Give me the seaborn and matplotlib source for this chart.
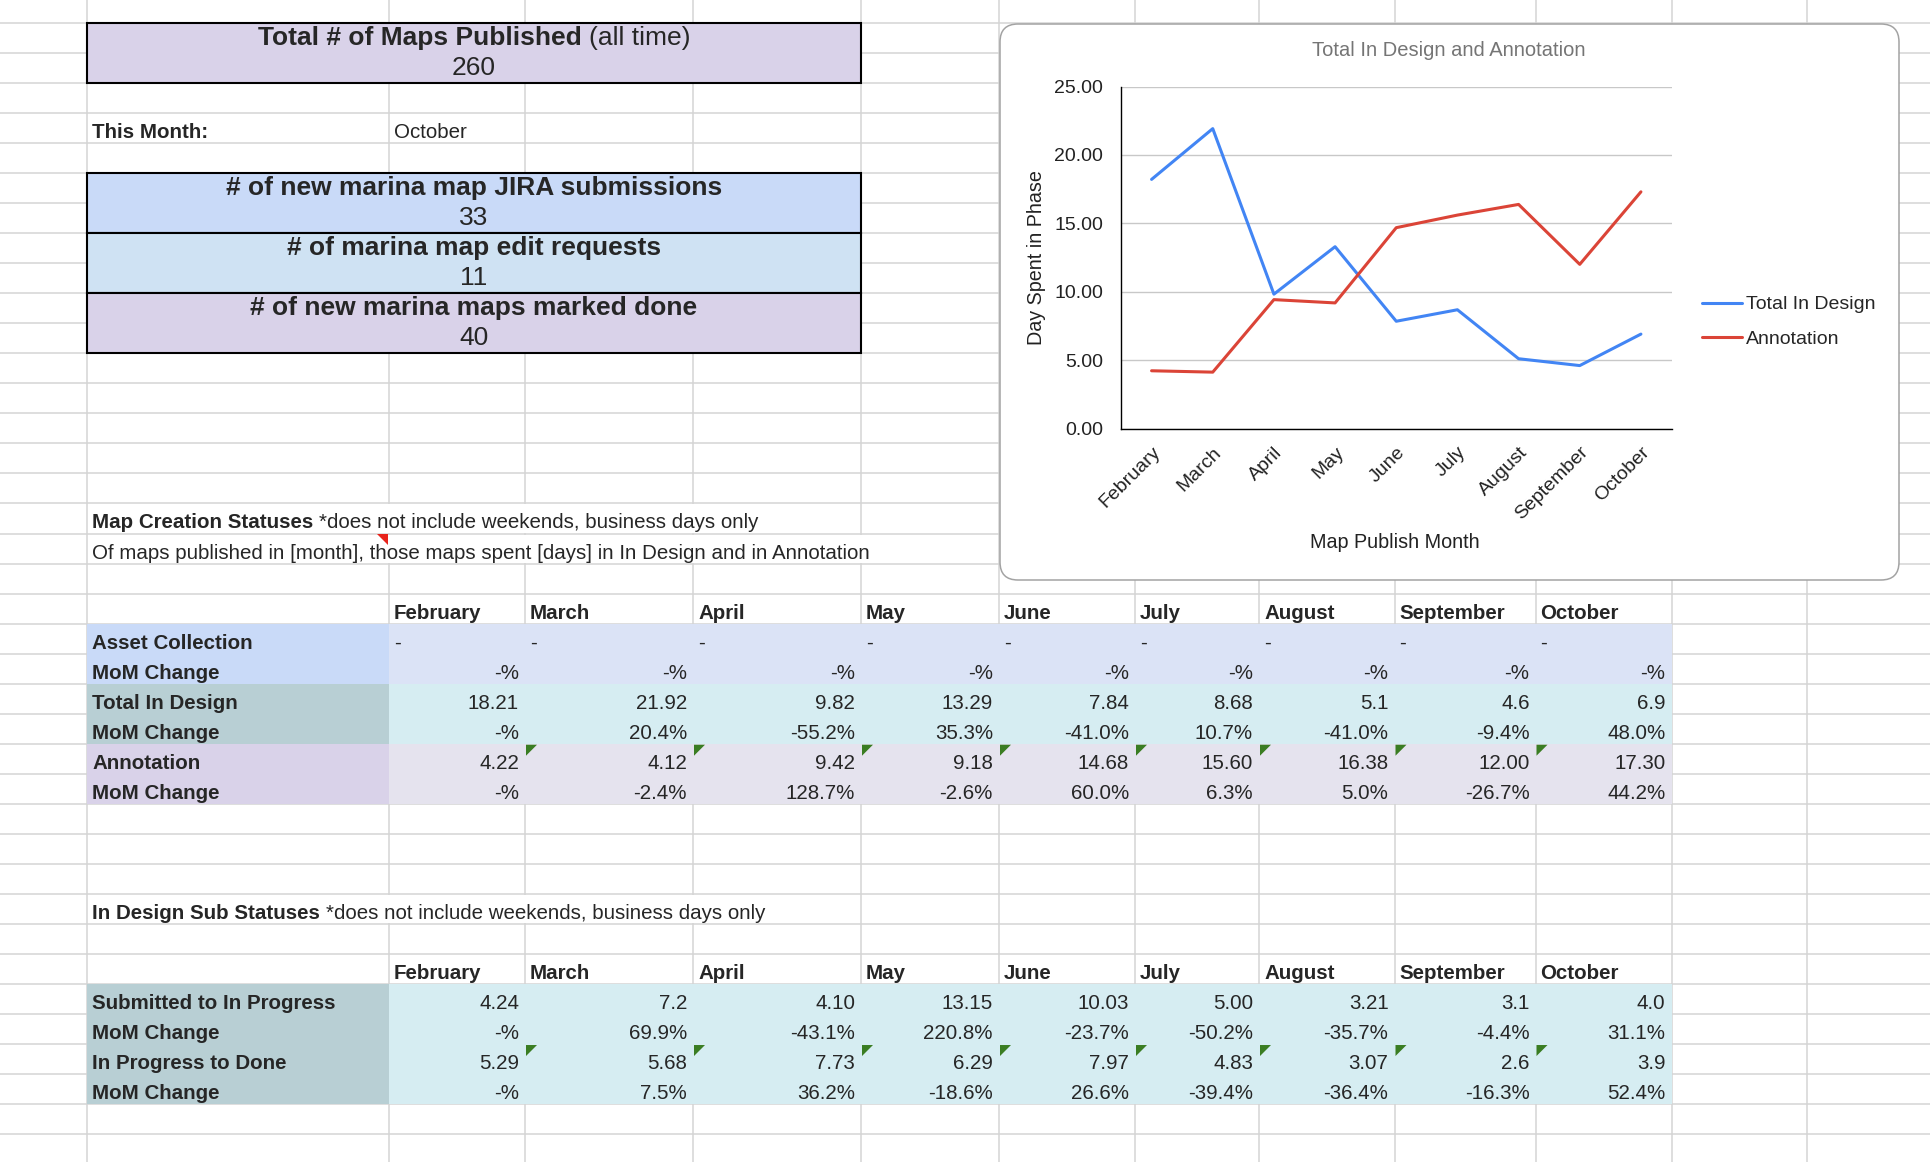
import numpy as np
import pandas as pd
import matplotlib
matplotlib.use("Agg")
import matplotlib.pyplot as plt
from matplotlib.patches import Rectangle, Polygon, FancyBboxPatch
from matplotlib.ticker import FormatStrFormatter, MultipleLocator
import seaborn as sns

# ---- data -------------------------------------------------------------
months = ["February", "March", "April", "May", "June", "July", "August", "September", "October"]
total_in_design = [18.21, 21.92, 9.82, 13.29, 7.84, 8.68, 5.1, 4.6, 6.9]
annotation = [4.22, 4.12, 9.42, 9.18, 14.68, 15.60, 16.38, 12.00, 17.30]

# cell texts as they are shown in the sheet
asset_txt = ["-"] * 9
asset_mom = ["-%"] * 9
design_txt = ["18.21", "21.92", "9.82", "13.29", "7.84", "8.68", "5.1", "4.6", "6.9"]
design_mom = ["-%", "20.4%", "-55.2%", "35.3%", "-41.0%", "10.7%", "-41.0%", "-9.4%", "48.0%"]
annot_txt = ["4.22", "4.12", "9.42", "9.18", "14.68", "15.60", "16.38", "12.00", "17.30"]
annot_mom = ["-%", "-2.4%", "128.7%", "-2.6%", "60.0%", "6.3%", "5.0%", "-26.7%", "44.2%"]
sub_txt = ["4.24", "7.2", "4.10", "13.15", "10.03", "5.00", "3.21", "3.1", "4.0"]
sub_mom = ["-%", "69.9%", "-43.1%", "220.8%", "-23.7%", "-50.2%", "-35.7%", "-4.4%", "31.1%"]
done_txt = ["5.29", "5.68", "7.73", "6.29", "7.97", "4.83", "3.07", "2.6", "3.9"]
done_mom = ["-%", "7.5%", "36.2%", "-18.6%", "26.6%", "-39.4%", "-36.4%", "-16.3%", "52.4%"]

total_maps = 260
jira_submissions = 33
edit_requests = 11
maps_done = 40
this_month = "October"

# ---- sheet geometry (pixels) ------------------------------------------
W, H = 1930, 1162
col_x = [0, 87, 389, 525, 693, 861, 999, 1135, 1259, 1394.5, 1535.5, 1671.5, 1807, 1930]
ROW0, RH = 23, 30.03
def ry(k):
    return ROW0 + RH * k

FS = 14.8      # normal sheet font
FS_BIG = 19.0  # boxed headline font
GRID = "#d4d4d4"

sns.set_theme(style="white")
plt.rcParams["font.family"] = ["Liberation Sans", "DejaVu Sans"]

fig = plt.figure(figsize=(W / 100, H / 100), dpi=100)
sheet = fig.add_axes([0, 0, 1, 1])
sheet.set_xlim(0, W)
sheet.set_ylim(H, 0)
sheet.axis("off")
renderer = fig.canvas.get_renderer()

# grid lines
for x in col_x[1:-1]:
    sheet.plot([x, x], [0, H], color=GRID, lw=1.1, zorder=1)
for k in range(0, 38):
    sheet.plot([0, W], [ry(k), ry(k)], color=GRID, lw=1.1, zorder=1)

def fill(c0, c1, r0, r1, color, edge=None):
    x0, x1 = col_x[c0], col_x[c1]
    y0, y1 = ry(r0), ry(r1)
    sheet.add_patch(Rectangle((x0, y0), x1 - x0, y1 - y0, facecolor=color,
                              edgecolor=edge if edge else "none",
                              lw=1.5 if edge else 0, zorder=3 if edge else 2))

def text_w(s, size, weight):
    t = sheet.text(0, 0, s, fontsize=size, fontweight=weight)
    w = t.get_window_extent(renderer).width
    t.remove()
    return w

def rich(x, y, parts, size, ha="left"):
    space = 0.278 * size * 100 / 72
    widths = [text_w(s, size, wgt) for s, wgt in parts]
    total = sum(widths) + space * (len(parts) - 1)
    if ha == "center":
        x = x - total / 2
    for (s, wgt), w in zip(parts, widths):
        sheet.text(x, y, s, fontsize=size, fontweight=wgt, va="baseline", ha="left", zorder=5)
        x += w + space

def cell(s, col, row, ha="left", bold=False):
    if ha == "left":
        x = col_x[col] + 5
    else:
        x = col_x[col + 1] - 6
    sheet.text(x, ry(row) + 25, s, ha=ha, va="baseline", fontsize=FS,
               fontweight="bold" if bold else "normal", zorder=5)

def cover_overflow(row, x0, x1):
    sheet.add_patch(Rectangle((x0 + 1, ry(row) + 1), x1 - x0 - 2, RH - 2,
                              facecolor="white", edgecolor="none", zorder=1.5))

# headline boxes
fill(1, 5, 0, 2, "#d9d2e9", edge="black")
rich((col_x[1] + col_x[5]) / 2, ry(0) + 22, [("Total # of Maps Published", "bold"), ("(all time)", "normal")],
     FS_BIG, ha="center")
sheet.text((col_x[1] + col_x[5]) / 2, ry(1) + 22, str(total_maps), ha="center", va="baseline",
           fontsize=FS_BIG, zorder=5)

cell("This Month:", 1, 3, bold=True)
cell(this_month, 2, 3)

boxes = [("# of new marina map JIRA submissions", jira_submissions, "#c9daf8"),
         ("# of marina map edit requests", edit_requests, "#cfe2f3"),
         ("# of new marina maps marked done", maps_done, "#d9d2e9")]
for i, (label, val, color) in enumerate(boxes):
    r = 5 + 2 * i
    fill(1, 5, r, r + 2, color, edge="black")
    sheet.text((col_x[1] + col_x[5]) / 2, ry(r) + 22, label, ha="center", va="baseline",
               fontsize=FS_BIG, fontweight="bold", zorder=5)
    sheet.text((col_x[1] + col_x[5]) / 2, ry(r + 1) + 22, str(val), ha="center", va="baseline",
               fontsize=FS_BIG, zorder=5)

# section notes (text overflowing across cells hides the vertical grid)
cover_overflow(16, col_x[1], col_x[5])
rich(col_x[1] + 5, ry(16) + 25, [("Map Creation Statuses", "bold"),
                                  ("*does not include weekends, business days only", "normal")], FS)
cover_overflow(17, col_x[1], col_x[6])
cell("Of maps published in [month], those maps spent [days] in In Design and in Annotation", 1, 17)
sheet.add_patch(Polygon([[col_x[2] - 12, ry(17)], [col_x[2] - 1, ry(17)], [col_x[2] - 1, ry(17) + 11]],
                        closed=True, facecolor="#e8231b", edgecolor="none", zorder=6))

cover_overflow(29, col_x[1], col_x[5])
rich(col_x[1] + 5, ry(29) + 25, [("In Design Sub Statuses", "bold"),
                                  ("*does not include weekends, business days only", "normal")], FS)

def green_marks(row):
    for c in range(3, 11):
        x0, y0 = col_x[c] + 1, ry(row) + 1
        sheet.add_patch(Polygon([[x0, y0], [x0 + 11, y0], [x0, y0 + 11]], closed=True,
                                facecolor="#3a7d22", edgecolor="none", zorder=6))

# table 1
for j, m in enumerate(months):
    cell(m, 2 + j, 19, bold=True)
table1 = [("Asset Collection", asset_txt, "left", "#c9daf8", "#dbe3f6"),
          ("MoM Change", asset_mom, "right", "#c9daf8", "#dbe3f6"),
          ("Total In Design", design_txt, "right", "#b8cfd4", "#d6edf2"),
          ("MoM Change", design_mom, "right", "#b8cfd4", "#d6edf2"),
          ("Annotation", annot_txt, "right", "#d9d2e9", "#e5e3ee"),
          ("MoM Change", annot_mom, "right", "#d9d2e9", "#e5e3ee")]
for i, (label, vals, ha, lab_col, val_col) in enumerate(table1):
    r = 20 + i
    fill(1, 2, r, r + 1, lab_col)
    fill(2, 11, r, r + 1, val_col)
    cell(label, 1, r, bold=True)
    for j, v in enumerate(vals):
        cell(v, 2 + j, r, ha=ha)
green_marks(24)

# table 2
for j, m in enumerate(months):
    cell(m, 2 + j, 31, bold=True)
table2 = [("Submitted to In Progress", sub_txt), ("MoM Change", sub_mom),
          ("In Progress to Done", done_txt), ("MoM Change", done_mom)]
for i, (label, vals) in enumerate(table2):
    r = 32 + i
    fill(1, 2, r, r + 1, "#b8cfd4")
    fill(2, 11, r, r + 1, "#d6edf2")
    cell(label, 1, r, bold=True)
    for j, v in enumerate(vals):
        cell(v, 2 + j, r, ha="right")
green_marks(34)

# ---- embedded chart -----------------------------------------------------
sheet.add_patch(FancyBboxPatch((1000, 24), 899, 556, boxstyle="round,pad=0,rounding_size=18",
                               facecolor="white", edgecolor="#a3a3a3", lw=1.1, zorder=8))
sheet.text(1449, 50, "Total In Design and Annotation", ha="center", va="center",
           fontsize=14.5, color="#757575", zorder=9)
sheet.text(1036, 257.5, "Day Spent in Phase", ha="center", va="center", rotation=90,
           fontsize=14.2, color="#222222", zorder=9)
sheet.text(1395, 543, "Map Publish Month", ha="center", va="center",
           fontsize=14.2, color="#222222", zorder=9)

ax_l, ax_r, ax_t, ax_b = 1121, 1671.5, 86.5, 428.5
ax = fig.add_axes([ax_l / W, 1 - ax_b / H, (ax_r - ax_l) / W, (ax_b - ax_t) / H])
ax.set_facecolor("none")

df = pd.DataFrame({
    "Month": months * 2,
    "Days": total_in_design + annotation,
    "Series": ["Total In Design"] * len(months) + ["Annotation"] * len(months),
})
sns.lineplot(data=df, x="Month", y="Days", hue="Series", sort=False,
             palette=["#4285f4", "#db4437"], linewidth=2.2, ax=ax)

ax.set_xlim(-0.5, len(months) - 0.5)
ax.set_ylim(0, 25)
ax.yaxis.set_major_locator(MultipleLocator(5))
ax.yaxis.set_major_formatter(FormatStrFormatter("%.2f"))
ax.set_xlabel("")
ax.set_ylabel("")
ax.yaxis.grid(True, color="#c8c8c8", lw=1.0)
ax.xaxis.grid(False)
for s in ["top", "right"]:
    ax.spines[s].set_visible(False)
for s in ["left", "bottom"]:
    ax.spines[s].set_color("black")
    ax.spines[s].set_linewidth(1.0)
ax.tick_params(axis="both", length=0, labelsize=14, colors="#222222")
ax.tick_params(axis="y", pad=13)
ax.tick_params(axis="x", pad=11)
plt.setp(ax.get_xticklabels(), rotation=45, ha="right", va="top", rotation_mode="anchor")

sns.move_legend(ax, "center left",
                bbox_to_anchor=((1702 - ax_l) / (ax_r - ax_l), 1 - (322 - ax_t) / (ax_b - ax_t)),
                frameon=False, title=None, fontsize=14, handlelength=2.05, handletextpad=0.2,
                labelspacing=0.88, borderaxespad=0, borderpad=0)

fig.savefig("out.png", dpi=100)
